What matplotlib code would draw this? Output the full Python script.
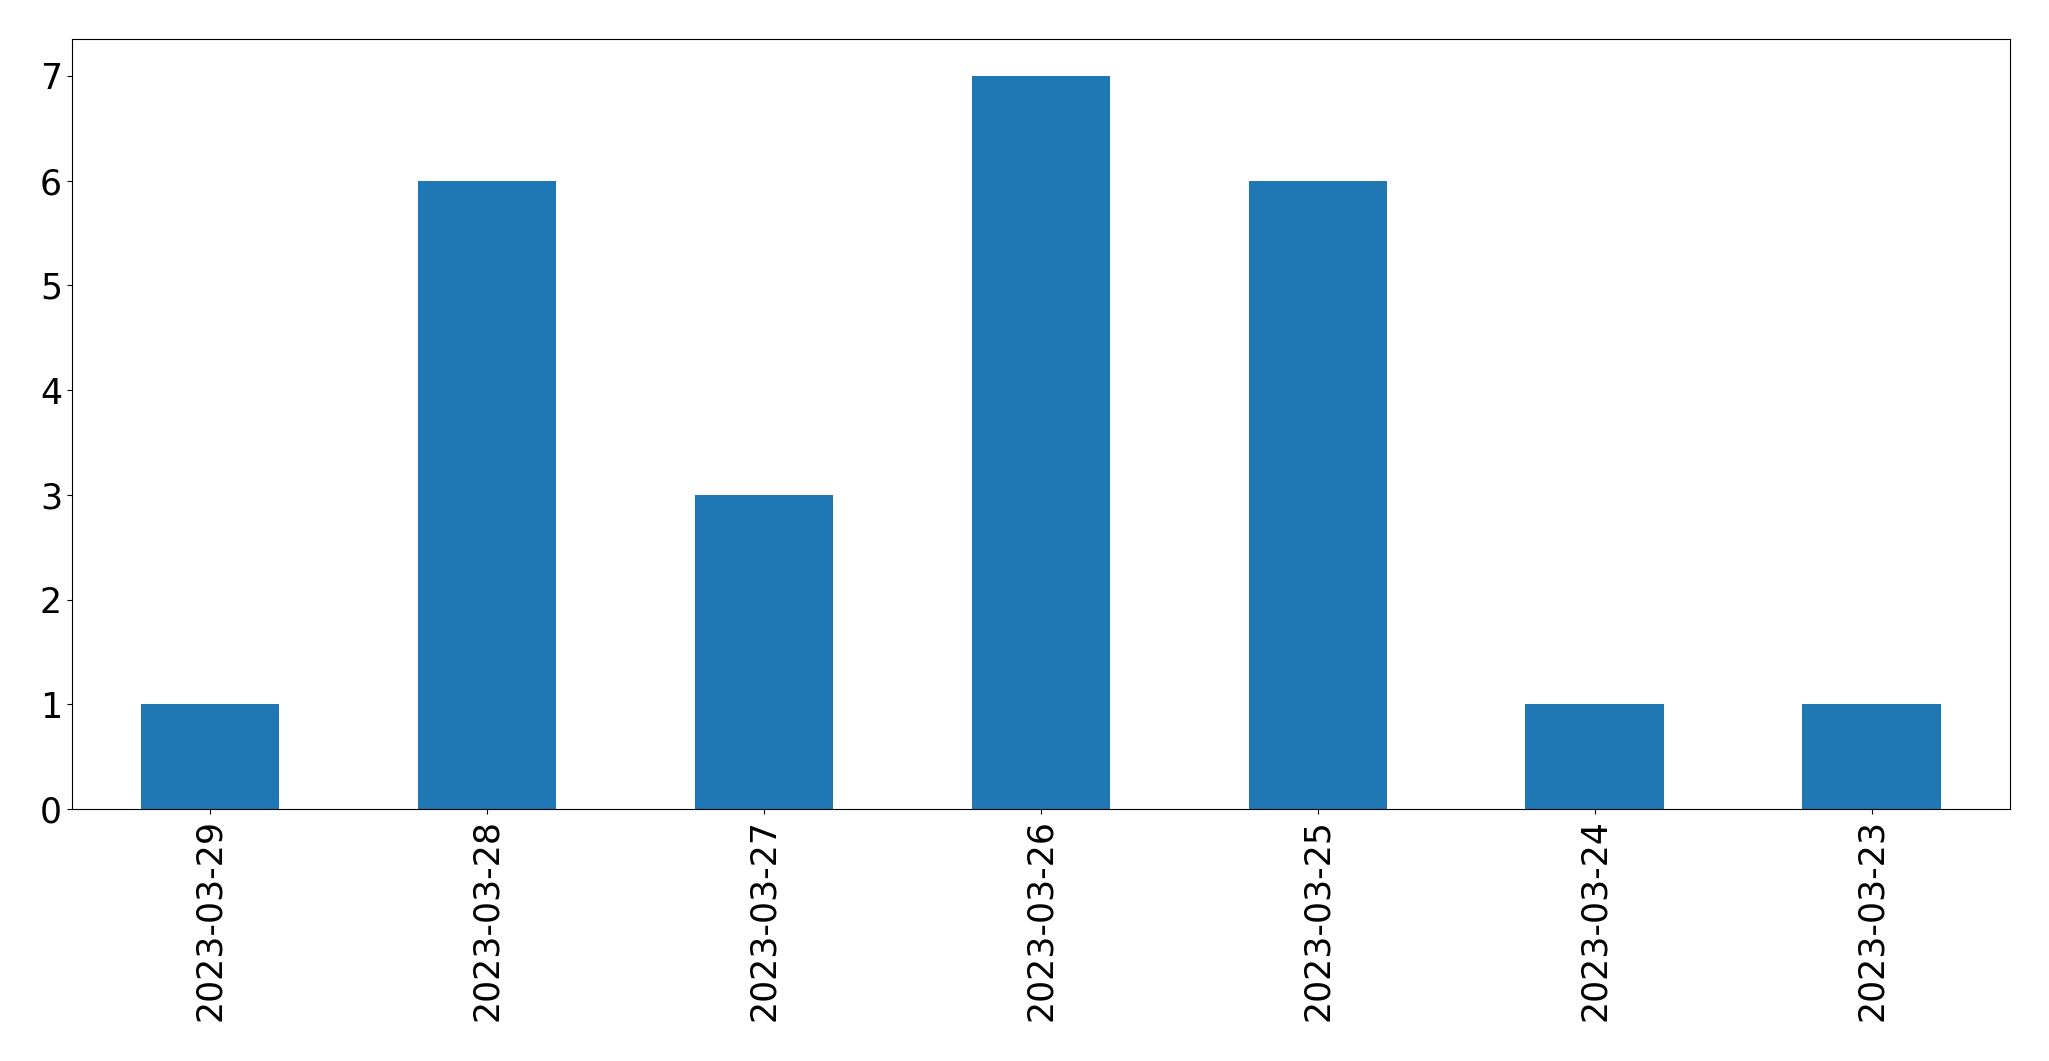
import matplotlib
matplotlib.use("Agg")
import matplotlib.pyplot as plt
import numpy as np

# dager (nyeste først) og antall
datoer = ["2023-03-29", "2023-03-28", "2023-03-27", "2023-03-26",
          "2023-03-25", "2023-03-24", "2023-03-23"]
antall = [1, 6, 3, 7, 6, 1, 1]

fig, ax = plt.subplots(figsize=(20.49, 10.61), dpi=100)
x = np.arange(len(datoer))
ax.bar(x, antall, width=0.5, color="#1f77b4")
ax.set_xlim(-0.5, len(datoer) - 0.5)
ax.set_ylim(0, max(antall) * 1.05)
ax.set_xticks(x)
ax.set_xticklabels(datoer, rotation=90)
ax.tick_params(labelsize=25)

fig.subplots_adjust(left=0.035, right=0.981, top=0.963, bottom=0.2375)
fig.savefig("out.png", dpi=100)
